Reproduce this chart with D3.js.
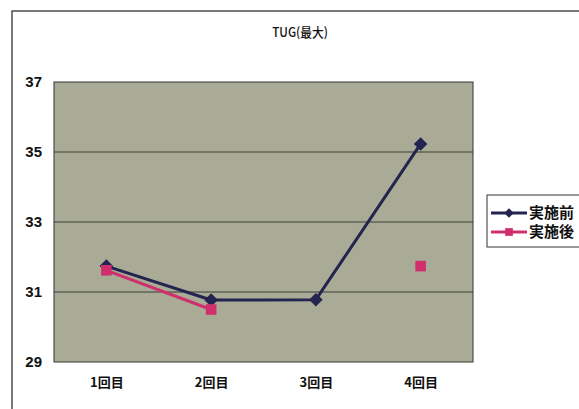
<!DOCTYPE html>
<html><head><meta charset="utf-8">
<script src="https://cdn.jsdelivr.net/npm/d3@7"></script>
<style>html,body{margin:0;padding:0;background:#fff;}</style>
</head><body>
<svg id="c" width="579" height="409"></svg>
<script>
const title = "TUG(最大)";
const categories = ["1回目", "2回目", "3回目", "4回目"];
const seriesNames = ["実施前", "実施後"];
const before = [31.74, 30.77, 30.78, 35.23];
const after = [31.62, 30.5, null, 31.74];
const yTicks = [29, 31, 33, 35, 37];

const svg = d3.select("#c");
const m = {left: 54, right: 473, top: 82, bottom: 362};
const x = d3.scalePoint().domain(categories).range([m.left, m.right]).padding(0.5);
const y = d3.scaleLinear().domain([29, 37]).range([m.bottom, m.top]);
const latin = "'Liberation Sans Narrow','Liberation Sans',Arial,sans-serif";
const cjk = "'Noto Sans CJK JP','Liberation Sans Narrow',sans-serif";

// outer frame
svg.append("rect").attr("x", 12).attr("y", 11).attr("width", 600).attr("height", 420)
  .attr("fill", "#fff").attr("stroke", "#222").attr("stroke-width", 1.2);

// title
svg.append("text").attr("x", 300).attr("y", 37).attr("text-anchor", "middle")
  .attr("font-family", cjk).attr("font-size", 13).attr("font-weight", 500).attr("fill", "#111")
  .attr("transform", "translate(300,0) scale(0.9,1) translate(-300,0)")
  .text(title);

// plot area
svg.append("rect").attr("x", m.left).attr("y", m.top)
  .attr("width", m.right - m.left).attr("height", m.bottom - m.top)
  .attr("fill", "#a9ab97").attr("stroke", "#333").attr("stroke-width", 1);

// gridlines
svg.append("g").selectAll("line").data(yTicks.slice(1, -1)).join("line")
  .attr("x1", m.left).attr("x2", m.right)
  .attr("y1", d => y(d)).attr("y2", d => y(d))
  .attr("stroke", "#3a3d33").attr("stroke-width", 1);

// y axis
const ya = svg.append("g").attr("transform", `translate(${m.left},0)`)
  .call(d3.axisLeft(y).tickValues(yTicks).tickSize(0).tickPadding(12));
ya.select(".domain").remove();
ya.selectAll("text").attr("font-family", latin).attr("font-weight", "bold")
  .attr("font-size", 15).attr("fill", "#111");

// x axis
const xa = svg.append("g").attr("transform", `translate(0,${m.bottom})`)
  .call(d3.axisBottom(x).tickSize(0).tickPadding(16));
xa.select(".domain").remove();
xa.selectAll("text").attr("font-family", cjk).attr("font-weight", "bold")
  .attr("font-size", 13).attr("fill", "#111");

const navy = "#23244f";
const pink = "#cf2f6c";

function drawSeries(vals, color, shape) {
  const pts = categories.map((c, i) => ({c, v: vals[i]}));
  const line = d3.line().defined(d => d.v != null).x(d => x(d.c)).y(d => y(d.v));
  svg.append("path").datum(pts).attr("d", line).attr("fill", "none")
    .attr("stroke", color).attr("stroke-width", 3).attr("stroke-linejoin", "round");
  svg.append("g").selectAll("path").data(pts.filter(d => d.v != null)).join("path")
    .attr("d", d3.symbol().type(d3.symbolSquare).size(shape === "diamond" ? 92 : 112)())
    .attr("transform", d => `translate(${x(d.c)},${y(d.v)})` + (shape === "diamond" ? " rotate(45)" : ""))
    .attr("fill", color);
}
drawSeries(before, navy, "diamond");
drawSeries(after, pink, "square");

// legend
const lg = svg.append("g");
lg.append("rect").attr("x", 487).attr("y", 195).attr("width", 100).attr("height", 52)
  .attr("fill", "#fff").attr("stroke", "#333").attr("stroke-width", 1);
const legendColors = [navy, pink];
seriesNames.forEach((n, i) => {
  const yy = 213 + i * 19;
  lg.append("line").attr("x1", 491).attr("x2", 527).attr("y1", yy).attr("y2", yy)
    .attr("stroke", legendColors[i]).attr("stroke-width", 3);
  lg.append("path").attr("d", d3.symbol().type(d3.symbolSquare).size(i === 0 ? 45 : 60)())
    .attr("transform", `translate(509,${yy})` + (i === 0 ? " rotate(45)" : ""))
    .attr("fill", legendColors[i]);
  lg.append("text").attr("x", 529).attr("y", yy + 5).attr("font-family", cjk)
    .attr("font-weight", "bold").attr("font-size", 15).attr("fill", "#111").text(n);
});
</script>
</body></html>
